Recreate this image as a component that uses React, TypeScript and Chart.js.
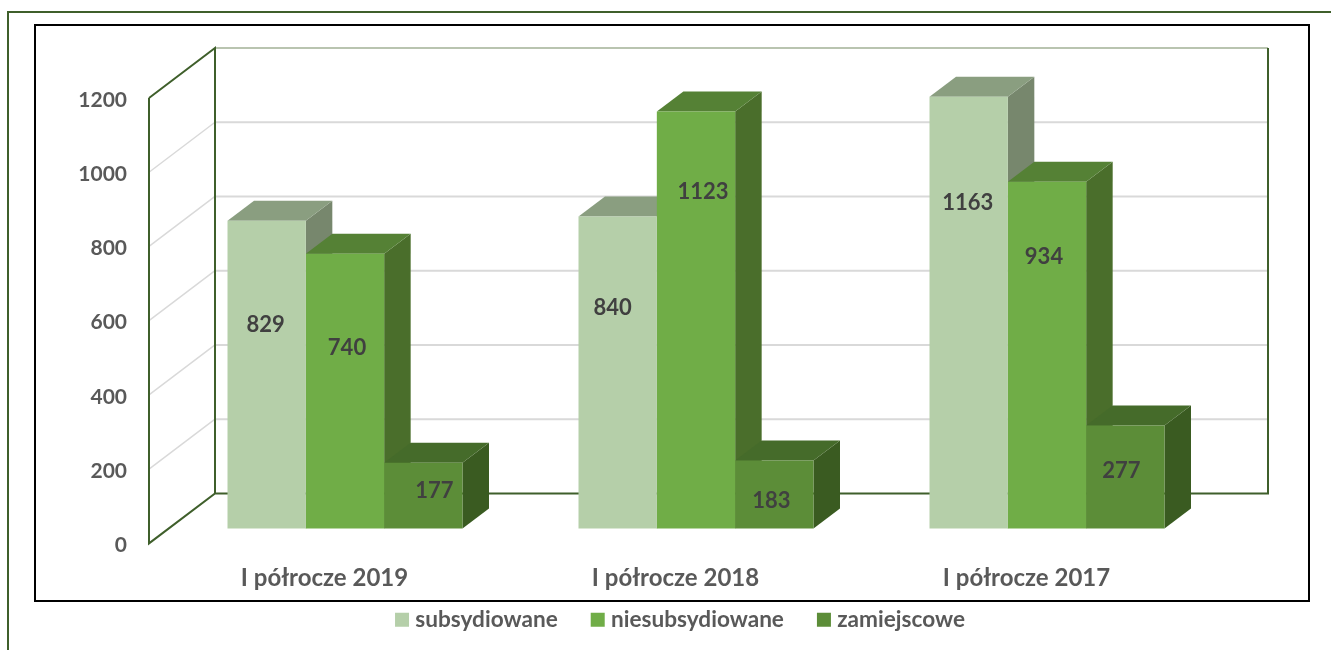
import React, { useEffect, useRef } from "react";
import { Chart, registerables } from "chart.js";

Chart.register(...registerables);

const categories = ["I półrocze 2019", "I półrocze 2018", "I półrocze 2017"];
const subsydiowane = [829, 840, 1163];
const niesubsydiowane = [740, 1123, 934];
const zamiejscowe = [177, 183, 277];
const seriesNames = ["subsydiowane", "niesubsydiowane", "zamiejscowe"];
const yTicks = [0, 200, 400, 600, 800, 1000, 1200];

// front, top, side face colours per series
const frontColors = ["#B5CFA9", "#70AD47", "#5C8D38"];
const topColors = ["#8A9E80", "#558135", "#456B2A"];
const sideColors = ["#77876D", "#4A6E2B", "#3A5B21"];

// hand-placed label offsets (from bar centre x and bar top y)
const labelDx = [[-1, 2, 11], [-5, 7, -3], [-1, -3, -4]];
const labelDy = [[104, 94, 28], [91, 80, 40], [106, 75, 45]];

const FONT = "Lato, 'Open Sans', sans-serif";
const WALL = "#3F5F2B";
const GRID = "#D9D9D9";
const WALL_OFF_Y = -2; // the box sits slightly above the tick label line
const BACK_DX = 66, BACK_DY = -50; // depth of the plot box
const BAR_OFF_X = 20.5, BAR_OFF_Y = -17; // bar front plane inside the box
const BAR_DX = 26.5, BAR_DY = -20; // bar depth

const threeD = {
  id: "threeD",
  afterLayout(chart: any) {
    // tick labels are clipped to the axis box: let them reach below the legend's top
    chart.scales.x.bottom = 600;
  },
  beforeDatasetsDraw(chart: any) {
    const { ctx, chartArea: a, scales } = chart;
    const y = scales.y;
    const bx = a.left + BACK_DX;
    const rx = a.right + BACK_DX;
    ctx.save();
    ctx.translate(0, WALL_OFF_Y);
    // gridlines on side wall and back wall
    yTicks.forEach((t) => {
      if (t === 0 || t === 1200) return;
      const py = y.getPixelForValue(t);
      ctx.strokeStyle = GRID;
      ctx.lineWidth = 1.5;
      ctx.beginPath();
      ctx.moveTo(a.left, py);
      ctx.lineTo(bx, py + BACK_DY);
      ctx.stroke();
      ctx.lineWidth = 2;
      ctx.beginPath();
      ctx.moveTo(bx, py + BACK_DY);
      ctx.lineTo(rx, py + BACK_DY);
      ctx.stroke();
    });
    const top = y.getPixelForValue(1200);
    const bot = y.getPixelForValue(0);
    // top edge of back wall
    ctx.strokeStyle = "#B9C4B0";
    ctx.lineWidth = 2;
    ctx.beginPath();
    ctx.moveTo(bx, top + BACK_DY);
    ctx.lineTo(rx, top + BACK_DY);
    ctx.stroke();
    // wall outlines
    ctx.strokeStyle = WALL;
    ctx.lineWidth = 2;
    ctx.beginPath();
    ctx.moveTo(a.left, top);
    ctx.lineTo(a.left, bot);
    ctx.lineTo(bx, bot + BACK_DY);
    ctx.lineTo(rx, bot + BACK_DY);
    ctx.lineTo(rx, top + BACK_DY);
    ctx.moveTo(a.left, top);
    ctx.lineTo(bx, top + BACK_DY);
    ctx.lineTo(bx, bot + BACK_DY);
    ctx.stroke();

    // shift bars to their plane, draw the receding faces; fronts follow from Chart.js
    ctx.restore();
    ctx.save();
    ctx.translate(BAR_OFF_X, BAR_OFF_Y);
    chart.data.datasets.forEach((_: any, di: number) => {
      chart.getDatasetMeta(di).data.forEach((el: any) => {
        const p = el.getProps(["x", "y", "base", "width"], true);
        const l = p.x - p.width / 2;
        const r = p.x + p.width / 2;
        ctx.fillStyle = sideColors[di];
        ctx.beginPath();
        ctx.moveTo(r, p.y);
        ctx.lineTo(r + BAR_DX, p.y + BAR_DY);
        ctx.lineTo(r + BAR_DX, p.base + BAR_DY);
        ctx.lineTo(r, p.base);
        ctx.closePath();
        ctx.fill();
        ctx.fillStyle = topColors[di];
        ctx.beginPath();
        ctx.moveTo(l, p.y);
        ctx.lineTo(l + BAR_DX, p.y + BAR_DY);
        ctx.lineTo(r + BAR_DX, p.y + BAR_DY);
        ctx.lineTo(r, p.y);
        ctx.closePath();
        ctx.fill();
      });
    });
  },
  afterDatasetsDraw(chart: any) {
    const { ctx } = chart;
    ctx.fillStyle = "#404040";
    ctx.font = `bold 22px ${FONT}`;
    ctx.textAlign = "center";
    ctx.textBaseline = "middle";
    chart.data.datasets.forEach((ds: any, di: number) => {
      chart.getDatasetMeta(di).data.forEach((el: any, ci: number) => {
        const p = el.getProps(["x", "y"], true);
        ctx.fillText(String(ds.data[ci]), p.x + labelDx[ci][di], p.y + labelDy[ci][di]);
      });
    });
    ctx.restore();
  },
};

export default function App() {
  const ref = useRef<HTMLCanvasElement>(null);
  useEffect(() => {
    const chart = new Chart(ref.current as HTMLCanvasElement, {
      type: "bar",
      plugins: [threeD],
      data: {
        labels: categories,
        datasets: [subsydiowane, niesubsydiowane, zamiejscowe].map((data, i) => ({
          label: seriesNames[i],
          data,
          backgroundColor: frontColors[i],
          categoryPercentage: 0.6695,
          barPercentage: 1,
          clip: false,
          yAxisID: "y",
        })),
      },
      options: {
        animation: false,
        responsive: false,
        devicePixelRatio: 1,
        layout: { padding: { left: 34, right: 0, top: 100, bottom: 9 } },
        plugins: {
          tooltip: { enabled: false },
          legend: {
            position: "bottom",
            labels: {
              boxWidth: 4,
              boxHeight: 4,
              padding: 38,
              color: "#595959",
              font: { family: FONT, weight: "bold", size: 22.6 },
              generateLabels: (c: any) =>
                Chart.defaults.plugins.legend.labels
                  .generateLabels(c)
                  .map((it: any) => ({ ...it, lineWidth: 10, strokeStyle: it.fillStyle })),
            },
          },
        },
        scales: {
          x: {
            grid: { display: false },
            border: { display: false },
            afterFit: (s: any) => {
              s.height = 25;
            },
            ticks: {
              color: "#595959",
              padding: 10,
              maxRotation: 0,
              font: { family: FONT, weight: "bold", size: 24 },
            },
          },
          y: {
            min: 0,
            max: 1200,
            grid: { display: false, drawTicks: false },
            border: { display: false },
            afterFit: (s: any) => {
              s.width = 115;
            },
            ticks: {
              stepSize: 200,
              color: "#595959",
              padding: 22,
              font: { family: FONT, weight: "bold", size: 21 },
              callback: (v: any) => String(v),
            },
          },
          spacer: {
            type: "linear",
            position: "right",
            min: 0,
            max: 1,
            grid: { display: false },
            border: { display: false },
            ticks: { display: false },
            afterFit: (s: any) => {
              s.width = 129;
            },
          },
        },
      },
    } as any);
    return () => chart.destroy();
  }, []);

  const box = (s: React.CSSProperties): React.CSSProperties => ({ position: "absolute", boxSizing: "border-box", ...s });
  return (
    <div style={{ position: "absolute", left: 0, top: 0, width: 1331, height: 650, overflow: "hidden", background: "#fff" }}>
      <div style={box({ left: 7, top: 11, width: 1324, height: 639, borderTop: `2px solid ${WALL}`, borderLeft: `2px solid ${WALL}` })} />
      <div style={box({ left: 34, top: 24, width: 1276, height: 578, border: "2px solid #000" })} />
      <canvas ref={ref} width={1331} height={650} style={{ position: "absolute", left: 0, top: 0, display: "block" }} />
    </div>
  );
}
